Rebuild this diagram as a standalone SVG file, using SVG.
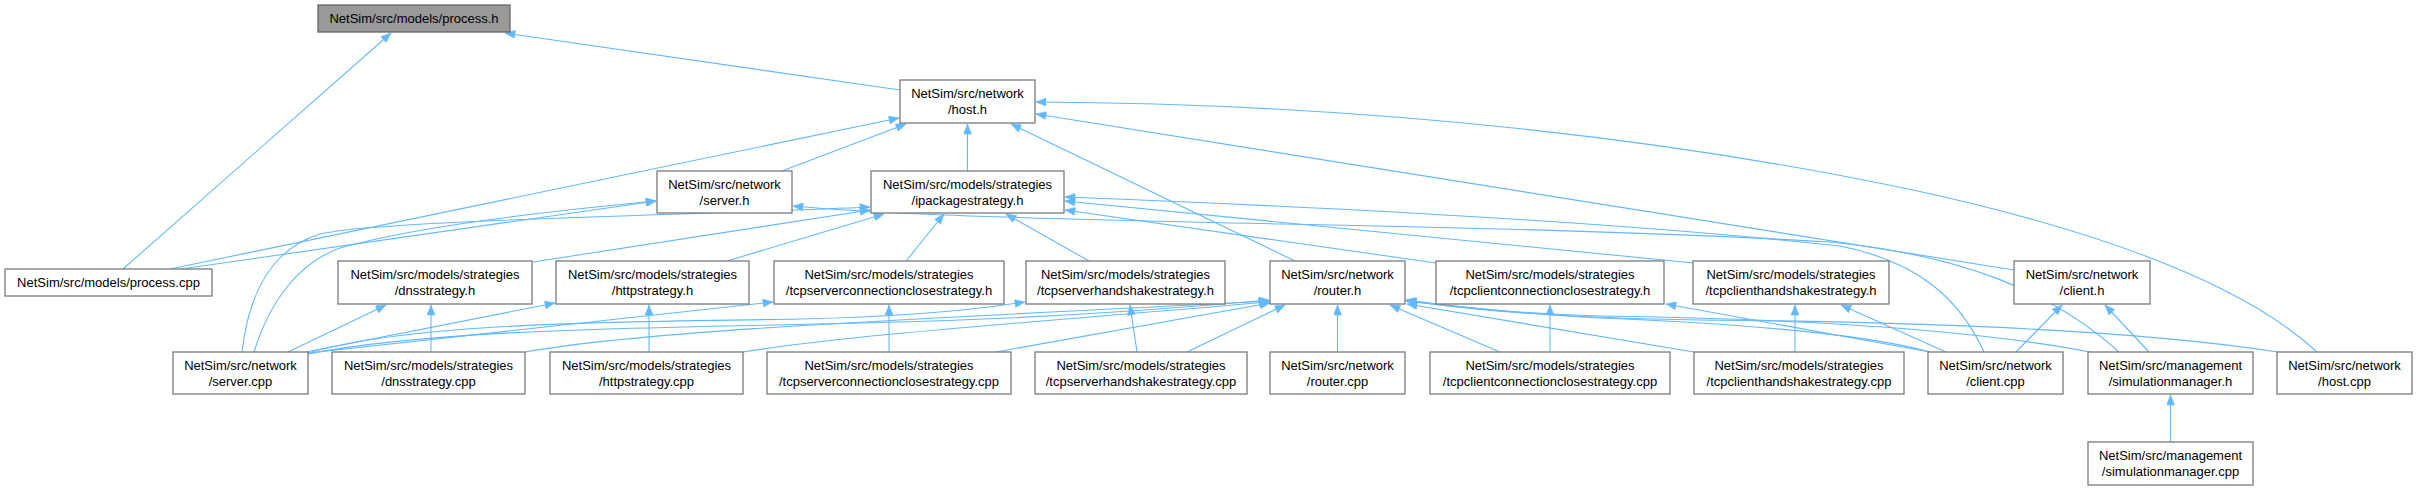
<svg xmlns="http://www.w3.org/2000/svg" width="2418" height="491" viewBox="0 0 2418 491">
<defs>
<marker id="ah" viewBox="0 0 10 8" refX="10" refY="4" markerWidth="11" markerHeight="8" markerUnits="userSpaceOnUse" orient="auto">
<path d="M0,0 L10,4 L0,8 z" fill="#63b8ff" stroke="#63b8ff" stroke-width="0.5"/>
</marker>
</defs>
<style>
.n rect{fill:#ffffff;stroke:#7a7a7a;stroke-width:1.3}
.n.root rect{fill:#999999;stroke:#666666}
.n text{font-family:"Liberation Sans",Arial,Helvetica,sans-serif;font-size:13px;fill:#000000;text-anchor:middle}
.e path{fill:none;stroke:#63b8ff;stroke-width:1.1;marker-end:url(#ah)}
</style>
<rect width="2418" height="491" fill="#ffffff"/>
<g id="edges" class="e">
<path d="M123,269 L391,33"/>
<path d="M900,90 L505,33"/>
<path d="M170,269 L899,118"/>
<path d="M181,269 L656,201"/>
<path d="M782,171 L906,124"/>
<path d="M967.5,171 L967.5,124"/>
<path d="M1295,261 L1011,124"/>
<path d="M2014,270 L1036,114"/>
<path d="M2317,352 C2250,290 2120,235 1913,190 C1700,145 1400,104 1036,102"/>
<path d="M254,352 C270,300 300,262 340,248 C420,225 560,210 656,201"/>
<path d="M242,352 C248,300 268,250 320,234 C380,220 700,215 870,207"/>
<path d="M2119,352 C2050,290 1960,255 1830,242 C1500,222 1000,225 793,206"/>
<path d="M1984,352 C1960,300 1920,262 1840,246 C1600,220 1300,206 1065,197"/>
<path d="M533,262 L870,210"/>
<path d="M727,261 L884,214"/>
<path d="M906,261 L944,214"/>
<path d="M1089,261 L1006,214"/>
<path d="M1436,263 L1065,210"/>
<path d="M1694,263 L1065,201"/>
<path d="M288,352 L386,305"/>
<path d="M431,352 L431,305"/>
<path d="M306,352 L555,303"/>
<path d="M649,352 L649,305"/>
<path d="M308,353 L773,302"/>
<path d="M889,352 L889,305"/>
<path d="M308,353 C420,320 650,322 800,319 C900,317 980,309 1025,302"/>
<path d="M1137,352 L1130,305"/>
<path d="M308,354 C450,326 700,328 900,322 C1050,318 1180,308 1269,300"/>
<path d="M525,352 C650,330 900,320 1269,301"/>
<path d="M743,352 C850,335 1000,325 1269,302"/>
<path d="M996,352 L1270,303"/>
<path d="M1187,352 L1285,305"/>
<path d="M1337.5,352 L1337.5,305"/>
<path d="M1550,352 L1550,305"/>
<path d="M1500,352 L1390,305"/>
<path d="M1694,352 L1407,304"/>
<path d="M1930,352 C1850,330 1700,322 1600,318 C1520,314 1450,306 1406,301"/>
<path d="M2090,352 C1950,325 1750,318 1600,316 C1520,314 1450,306 1406,300"/>
<path d="M2278,352 C2150,332 1950,322 1700,320 C1550,318 1450,308 1406,300"/>
<path d="M1795,352 L1795,305"/>
<path d="M1930,352 L1666,304"/>
<path d="M1946,352 L1841,305"/>
<path d="M2016,352 L2062,305"/>
<path d="M2149,352 L2105,305"/>
<path d="M2170.5,442 L2170.5,395"/>
</g>
<g id="n-process-h" class="n root"><rect x="318" y="5" width="192" height="27"/><text x="414" y="23">NetSim/src/models/process.h</text></g>
<g id="n-host-h" class="n"><rect x="900" y="80" width="135" height="43"/><text x="967.5" y="98">NetSim/src/network</text><text x="967.5" y="114">/host.h</text></g>
<g id="n-server-h" class="n"><rect x="657" y="171" width="135" height="42"/><text x="724.5" y="189">NetSim/src/network</text><text x="724.5" y="205">/server.h</text></g>
<g id="n-ipackagestrategy-h" class="n"><rect x="871" y="171" width="193" height="42"/><text x="967.5" y="189">NetSim/src/models/strategies</text><text x="967.5" y="205">/ipackagestrategy.h</text></g>
<g id="n-process-cpp" class="n"><rect x="5" y="269" width="207" height="27"/><text x="108.5" y="287">NetSim/src/models/process.cpp</text></g>
<g id="n-dnsstrategy-h" class="n"><rect x="338" y="261" width="194" height="43"/><text x="435" y="279">NetSim/src/models/strategies</text><text x="435" y="295">/dnsstrategy.h</text></g>
<g id="n-httpstrategy-h" class="n"><rect x="556" y="261" width="193" height="43"/><text x="652.5" y="279">NetSim/src/models/strategies</text><text x="652.5" y="295">/httpstrategy.h</text></g>
<g id="n-tcpsccs-h" class="n"><rect x="774" y="261" width="230" height="43"/><text x="889" y="279">NetSim/src/models/strategies</text><text x="889" y="295">/tcpserverconnectionclosestrategy.h</text></g>
<g id="n-tcpshs-h" class="n"><rect x="1026" y="261" width="199" height="43"/><text x="1125.5" y="279">NetSim/src/models/strategies</text><text x="1125.5" y="295">/tcpserverhandshakestrategy.h</text></g>
<g id="n-router-h" class="n"><rect x="1270" y="261" width="135" height="43"/><text x="1337.5" y="279">NetSim/src/network</text><text x="1337.5" y="295">/router.h</text></g>
<g id="n-tcpcccs-h" class="n"><rect x="1436" y="261" width="228" height="43"/><text x="1550" y="279">NetSim/src/models/strategies</text><text x="1550" y="295">/tcpclientconnectionclosestrategy.h</text></g>
<g id="n-tcpchs-h" class="n"><rect x="1693" y="261" width="196" height="43"/><text x="1791" y="279">NetSim/src/models/strategies</text><text x="1791" y="295">/tcpclienthandshakestrategy.h</text></g>
<g id="n-client-h" class="n"><rect x="2014" y="261" width="136" height="43"/><text x="2082" y="279">NetSim/src/network</text><text x="2082" y="295">/client.h</text></g>
<g id="n-server-cpp" class="n"><rect x="173" y="352" width="135" height="42"/><text x="240.5" y="370">NetSim/src/network</text><text x="240.5" y="386">/server.cpp</text></g>
<g id="n-dnsstrategy-cpp" class="n"><rect x="332" y="352" width="193" height="42"/><text x="428.5" y="370">NetSim/src/models/strategies</text><text x="428.5" y="386">/dnsstrategy.cpp</text></g>
<g id="n-httpstrategy-cpp" class="n"><rect x="550" y="352" width="193" height="42"/><text x="646.5" y="370">NetSim/src/models/strategies</text><text x="646.5" y="386">/httpstrategy.cpp</text></g>
<g id="n-tcpsccs-cpp" class="n"><rect x="767" y="352" width="244" height="42"/><text x="889" y="370">NetSim/src/models/strategies</text><text x="889" y="386">/tcpserverconnectionclosestrategy.cpp</text></g>
<g id="n-tcpshs-cpp" class="n"><rect x="1035" y="352" width="212" height="42"/><text x="1141" y="370">NetSim/src/models/strategies</text><text x="1141" y="386">/tcpserverhandshakestrategy.cpp</text></g>
<g id="n-router-cpp" class="n"><rect x="1270" y="352" width="135" height="42"/><text x="1337.5" y="370">NetSim/src/network</text><text x="1337.5" y="386">/router.cpp</text></g>
<g id="n-tcpcccs-cpp" class="n"><rect x="1430" y="352" width="240" height="42"/><text x="1550" y="370">NetSim/src/models/strategies</text><text x="1550" y="386">/tcpclientconnectionclosestrategy.cpp</text></g>
<g id="n-tcpchs-cpp" class="n"><rect x="1694" y="352" width="210" height="42"/><text x="1799" y="370">NetSim/src/models/strategies</text><text x="1799" y="386">/tcpclienthandshakestrategy.cpp</text></g>
<g id="n-client-cpp" class="n"><rect x="1928" y="352" width="135" height="42"/><text x="1995.5" y="370">NetSim/src/network</text><text x="1995.5" y="386">/client.cpp</text></g>
<g id="n-simulationmanager-h" class="n"><rect x="2088" y="352" width="165" height="42"/><text x="2170.5" y="370">NetSim/src/management</text><text x="2170.5" y="386">/simulationmanager.h</text></g>
<g id="n-host-cpp" class="n"><rect x="2277" y="352" width="135" height="42"/><text x="2344.5" y="370">NetSim/src/network</text><text x="2344.5" y="386">/host.cpp</text></g>
<g id="n-simulationmanager-cpp" class="n"><rect x="2088" y="442" width="165" height="43"/><text x="2170.5" y="460">NetSim/src/management</text><text x="2170.5" y="476">/simulationmanager.cpp</text></g>
</svg>
